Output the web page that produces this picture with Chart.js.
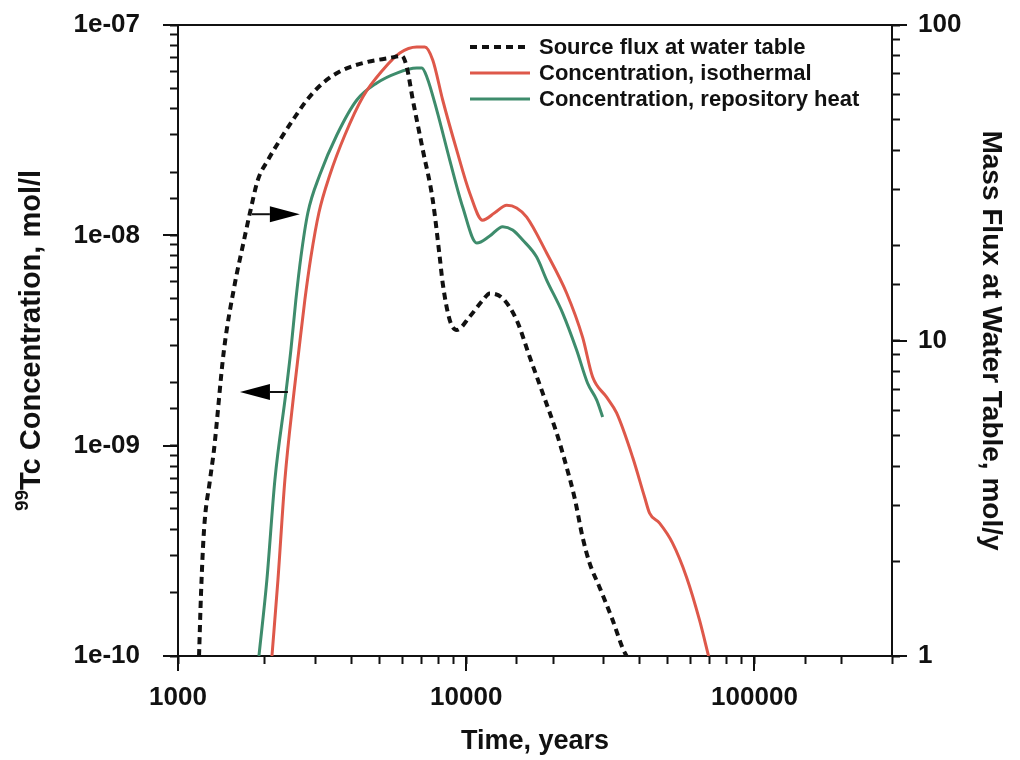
<!DOCTYPE html>
<html>
<head>
<meta charset="utf-8">
<script src="https://cdn.jsdelivr.net/npm/chart.js@4.4.1/dist/chart.umd.min.js"></script>
<style>
  html, body { margin: 0; padding: 0; background: #fff; }
  #wrap { width: 1020px; height: 760px; }
</style>
</head>
<body>
<div id="wrap"><canvas id="tcChart" width="1020" height="760"></canvas></div>
<script>
// Datos
// Flujo en la fuente (eje derecho, mol/y)
const tFlux = [1183, 1202, 1231, 1291, 1333, 1443, 1576, 1667, 1777, 1893, 2051, 2258, 2504, 2800, 3182, 3733, 4519, 5431, 5976, 6218, 6526, 7068, 7652, 8091, 8285, 8766, 9268, 10280, 11400, 12063, 13383, 14962, 16600, 18410, 20590, 22290, 23770, 25330, 26790, 29020, 32200, 34870, 35980];
const flux = [1.0, 1.58, 2.51, 3.61, 4.5, 9.3, 15.2, 19.4, 25.4, 32.3, 37.3, 43.2, 50.0, 57.8, 65.5, 72.0, 76.3, 78.6, 79.8, 73.6, 57.9, 40.2, 27.9, 18.4, 15.2, 11.6, 10.8, 11.9, 13.4, 14.1, 13.6, 11.6, 8.87, 6.82, 5.09, 3.97, 3.17, 2.38, 1.97, 1.65, 1.30, 1.06, 1.0];

// Concentración isotérmica (eje izquierdo, mol/l)
const tIso = [2118, 2222, 2349, 2524, 2627, 2755, 2891, 3082, 3365, 3793, 4378, 5135, 5883, 6736, 7180, 7652, 8285, 9268, 10280, 11400, 12560, 13820, 14962, 16210, 19010, 22290, 25330, 27450, 30690, 33240, 37760, 41560, 43250, 46850, 51980, 58120, 64480, 69290];
const concIso = [1.0e-10, 2.3e-10, 6.9e-10, 1.78e-9, 2.85e-9, 4.93e-9, 7.88e-9, 1.28e-8, 1.94e-8, 3.00e-8, 4.55e-8, 6.11e-8, 7.36e-8, 7.86e-8, 7.86e-8, 6.82e-8, 4.40e-8, 2.54e-8, 1.59e-8, 1.18e-8, 1.28e-8, 1.39e-8, 1.35e-8, 1.22e-8, 8.24e-9, 5.32e-9, 3.28e-9, 2.12e-9, 1.70e-9, 1.43e-9, 8.83e-10, 5.70e-10, 4.78e-10, 4.28e-10, 3.44e-10, 2.37e-10, 1.48e-10, 1.0e-10];

// Concentración con calor del repositorio (eje izquierdo, mol/l)
const tHeat = [1909, 2034, 2169, 2367, 2464, 2564, 2669, 2822, 3105, 3557, 4173, 4896, 5742, 6736, 7013, 7300, 7902, 8766, 9726, 10880, 12063, 13383, 14490, 15700, 17550, 19010, 21600, 24150, 26370, 28340, 29730];
const concHeat = [1.0e-10, 2.3e-10, 6.9e-10, 1.78e-9, 2.85e-9, 4.93e-9, 7.88e-9, 1.28e-8, 1.94e-8, 3.00e-8, 4.40e-8, 5.30e-8, 5.91e-8, 6.24e-8, 6.24e-8, 5.66e-8, 3.94e-8, 2.28e-8, 1.36e-8, 9.19e-9, 9.92e-9, 1.10e-8, 1.06e-8, 9.5e-9, 7.88e-9, 6.13e-9, 4.27e-9, 2.85e-9, 1.98e-9, 1.65e-9, 1.37e-9];

// Rangos de los ejes
const xRange = [1000, 300000];
const concRange = [1e-10, 1e-7];
const fluxRange = [1, 100];

// Flechas que indican el eje de cada curva: [t inicio, t punta, concentración]
const arrowRight = [1805, 2648, 1.26e-8];
const arrowLeft = [2406, 1640, 1.80e-9];

const FONT = "'Liberation Sans', Arial, Helvetica, sans-serif";
const ROJO = 'rgb(222, 88, 74)';
const VERDE = 'rgb(62, 140, 108)';

function esMayor(v) {
    const l = Math.log10(v);
    return Math.abs(l - Math.round(l)) < 1e-6;
}

function puntos(xs, ys) {
    return xs.map((x, i) => ({ x: x, y: ys[i] }));
}

// Quitar el relleno que Chart.js reserva para las etiquetas extremas
function sinRelleno(s) {
    s.paddingTop = 0;
    s.paddingBottom = 0;
    s.paddingLeft = 0;
    s.paddingRight = 0;
}

// Plugin: marco superior, ticks mayores largos, flechas, leyenda y título izquierdo
const extrasPlugin = {
    id: 'extras',
    afterDraw(chart) {
        const ctx = chart.ctx;
        const area = chart.chartArea;
        const sx = chart.scales.x, sy = chart.scales.y, sy1 = chart.scales.y1;
        ctx.save();
        ctx.strokeStyle = '#111';
        ctx.lineWidth = 2;
        // linea superior
        ctx.beginPath();
        ctx.moveTo(area.left, area.top);
        ctx.lineTo(area.right, area.top);
        ctx.stroke();

        // ticks mayores
        const largo = 15;
        ctx.beginPath();
        sx.ticks.forEach(t => {
            if (!esMayor(t.value)) return;
            const p = Math.round(sx.getPixelForValue(t.value));
            ctx.moveTo(p, area.bottom);
            ctx.lineTo(p, area.bottom + largo);
        });
        sy.ticks.forEach(t => {
            if (!esMayor(t.value)) return;
            const p = Math.round(sy.getPixelForValue(t.value));
            ctx.moveTo(area.left, p);
            ctx.lineTo(area.left - largo, p);
        });
        sy1.ticks.forEach(t => {
            if (!esMayor(t.value)) return;
            const p = Math.round(sy1.getPixelForValue(t.value));
            ctx.moveTo(area.right, p);
            ctx.lineTo(area.right + largo, p);
        });
        ctx.stroke();

        // flechas
        function flecha(a) {
            const x0 = sx.getPixelForValue(a[0]);
            const x1 = sx.getPixelForValue(a[1]);
            const y = sy.getPixelForValue(a[2]);
            const dir = Math.sign(x1 - x0);
            const cabeza = 30;
            ctx.lineWidth = 2;
            ctx.beginPath();
            ctx.moveTo(x0, y);
            ctx.lineTo(x1 - dir * cabeza, y);
            ctx.stroke();
            ctx.fillStyle = '#000';
            ctx.beginPath();
            ctx.moveTo(x1, y);
            ctx.lineTo(x1 - dir * cabeza, y - 8);
            ctx.lineTo(x1 - dir * cabeza, y + 8);
            ctx.closePath();
            ctx.fill();
        }
        flecha(arrowRight);
        flecha(arrowLeft);

        // leyenda
        const lx = 470, ly = 47, paso = 26;
        ctx.font = 'bold 22px ' + FONT;
        ctx.textBaseline = 'middle';
        ctx.fillStyle = '#111';
        chart.data.datasets.forEach((ds, i) => {
            const y = ly + i * paso;
            ctx.strokeStyle = ds.borderColor;
            ctx.lineWidth = ds.borderWidth;
            ctx.setLineDash(ds.borderDash || []);
            ctx.beginPath();
            ctx.moveTo(lx, y);
            ctx.lineTo(lx + 60, y);
            ctx.stroke();
            ctx.setLineDash([]);
            ctx.fillText(ds.label, lx + 69, y + 1);
        });

        // título del eje izquierdo con superíndice
        const sup = '99', resto = 'Tc Concentration, mol/l';
        const fGrande = 'bold 29px ' + FONT, fChico = 'bold 19px ' + FONT;
        ctx.font = fChico;
        const wSup = ctx.measureText(sup).width;
        ctx.font = fGrande;
        const wResto = ctx.measureText(resto).width;
        const cy = (area.top + area.bottom) / 2;
        ctx.translate(40, cy);
        ctx.rotate(-Math.PI / 2);
        ctx.textBaseline = 'alphabetic';
        ctx.textAlign = 'left';
        const x0 = -(wSup + wResto) / 2;
        ctx.font = fChico;
        ctx.fillText(sup, x0, -12);
        ctx.font = fGrande;
        ctx.fillText(resto, x0 + wSup, 0);
        ctx.restore();
    }
};

const ctx = document.getElementById('tcChart').getContext('2d');
const tcChart = new Chart(ctx, {
    type: 'line',
    data: {
        datasets: [{
            label: 'Source flux at water table',
            data: puntos(tFlux, flux),
            yAxisID: 'y1',
            borderColor: '#111',
            borderWidth: 4,
            borderDash: [7, 5],
            pointRadius: 0,
            cubicInterpolationMode: 'monotone',
            fill: false
        }, {
            label: 'Concentration, isothermal',
            data: puntos(tIso, concIso),
            yAxisID: 'y',
            borderColor: ROJO,
            borderWidth: 3,
            pointRadius: 0,
            cubicInterpolationMode: 'monotone',
            fill: false
        }, {
            label: 'Concentration, repository heat',
            data: puntos(tHeat, concHeat),
            yAxisID: 'y',
            borderColor: VERDE,
            borderWidth: 3,
            pointRadius: 0,
            cubicInterpolationMode: 'monotone',
            fill: false
        }]
    },
    options: {
        responsive: false,
        animation: false,
        devicePixelRatio: 1,
        layout: { padding: { top: 25, left: 0, right: 0, bottom: 0 } },
        plugins: {
            legend: { display: false },
            tooltip: { enabled: false }
        },
        scales: {
            x: {
                type: 'logarithmic',
                min: xRange[0],
                max: xRange[1],
                afterFit: s => { s.height = 104; sinRelleno(s); },
                border: { display: true, color: '#111', width: 2 },
                grid: { drawOnChartArea: false, drawTicks: true, tickLength: 8, tickColor: '#111', tickWidth: 2 },
                ticks: {
                    autoSkip: false,
                    maxRotation: 0,
                    padding: 18,
                    color: '#111',
                    font: { family: FONT, size: 26, weight: 'bold' },
                    callback: v => esMayor(v) ? String(Math.round(v)) : ''
                },
                title: {
                    display: true,
                    text: 'Time, years',
                    color: '#111',
                    font: { family: FONT, size: 27, weight: 'bold' },
                    padding: { top: 0, bottom: 2 }
                }
            },
            y: {
                type: 'logarithmic',
                position: 'left',
                min: concRange[0],
                max: concRange[1],
                afterFit: s => { s.width = 178; sinRelleno(s); },
                border: { display: true, color: '#111', width: 2 },
                grid: { drawOnChartArea: false, drawTicks: true, tickLength: 8, tickColor: '#111', tickWidth: 2 },
                ticks: {
                    autoSkip: false,
                    padding: 30,
                    color: '#111',
                    font: { family: FONT, size: 26, weight: 'bold' },
                    callback: v => esMayor(v) ? '1e-' + String(-Math.round(Math.log10(v))).padStart(2, '0') : ''
                },
                title: { display: false }
            },
            y1: {
                type: 'logarithmic',
                position: 'right',
                min: fluxRange[0],
                max: fluxRange[1],
                afterFit: s => { s.width = 128; sinRelleno(s); },
                border: { display: true, color: '#111', width: 2 },
                grid: { drawOnChartArea: false, drawTicks: true, tickLength: 8, tickColor: '#111', tickWidth: 2 },
                ticks: {
                    autoSkip: false,
                    padding: 18,
                    color: '#111',
                    font: { family: FONT, size: 26, weight: 'bold' },
                    callback: v => esMayor(v) ? String(Math.round(v)) : ''
                },
                title: {
                    display: true,
                    text: 'Mass Flux at Water Table, mol/y',
                    color: '#111',
                    font: { family: FONT, size: 28, weight: 'bold' },
                    padding: { top: 12, bottom: 0 }
                }
            }
        }
    },
    plugins: [extrasPlugin]
});
</script>
</body>
</html>
